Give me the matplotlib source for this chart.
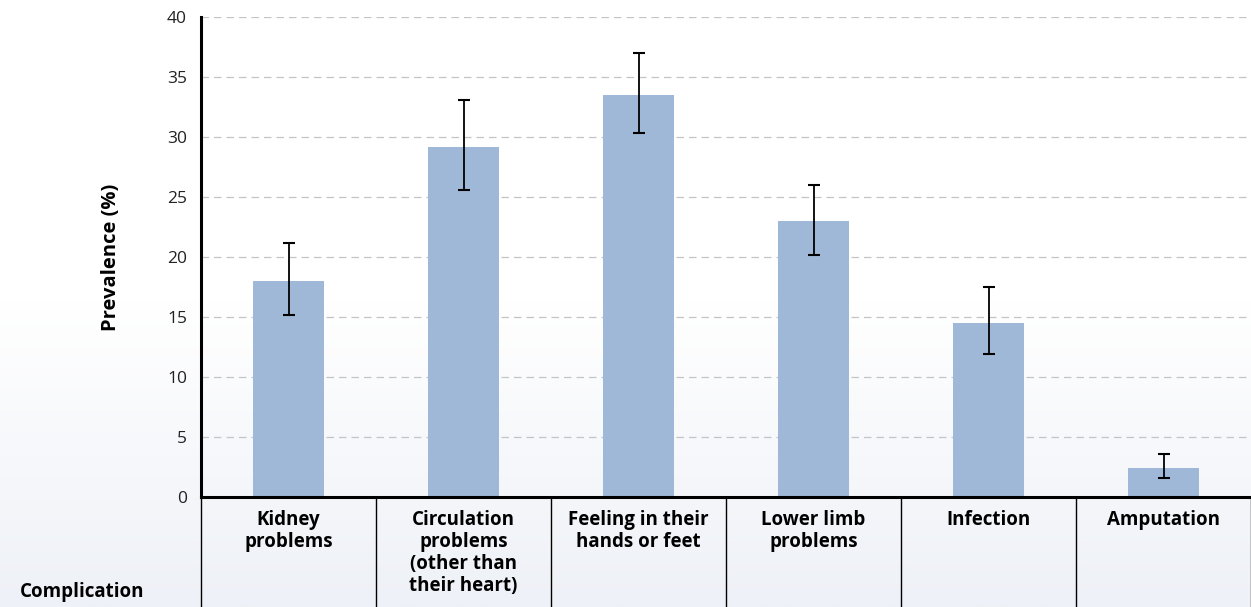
import numpy as np
import matplotlib.pyplot as plt
from matplotlib.colors import LinearSegmentedColormap
from matplotlib.lines import Line2D

categories = ["Kidney\nproblems", "Circulation\nproblems\n(other than\ntheir heart)",
              "Feeling in their\nhands or feet", "Lower limb\nproblems", "Infection", "Amputation"]
prevalence = [18.0, 29.2, 33.5, 23.0, 14.5, 2.4]
ci_low = [15.2, 25.6, 30.3, 20.2, 11.9, 1.6]
ci_high = [21.2, 33.1, 37.0, 26.0, 17.5, 3.6]
yticks = [0, 5, 10, 15, 20, 25, 30, 35, 40]

plt.rcParams['font.family'] = ['Open Sans', 'DejaVu Sans']

W, H = 1251, 607
fig = plt.figure(figsize=(W / 100, H / 100), dpi=100)

# background gradient (white at top -> pale blue-grey at bottom)
bg = fig.add_axes([0, 0, 1, 1], zorder=-10)
grad = np.linspace(0, 1, 256).reshape(-1, 1)
cmap = LinearSegmentedColormap.from_list("bg", ["#ffffff", "#ffffff", "#eef1f7"])
bg.imshow(grad, aspect="auto", cmap=cmap, extent=[0, 1, 0, 1], origin="upper")
bg.axis("off")

left, right, top, bottom = 201, 1251, 17, 497
ax = fig.add_axes([left / W, (H - bottom) / H, (right - left) / W, (bottom - top) / H])
ax.set_facecolor("none")

x = np.arange(len(categories))
vals = np.array(prevalence)
err = [vals - np.array(ci_low), np.array(ci_high) - vals]
ax.bar(x, vals, width=0.41, color="#9fb8d8", zorder=2)
ax.errorbar(x, vals, yerr=err, fmt="none", ecolor="black", elinewidth=1.3,
            capsize=4.5, capthick=1.5, zorder=3)

ax.set_xlim(-0.5, len(categories) - 0.5)
ax.set_ylim(0, 40)
ax.set_yticks(yticks)
ax.tick_params(axis="y", length=0, labelsize=12.5, colors="#222222", pad=10)
ax.set_xticks([])
ax.yaxis.grid(True, linestyle=(0, (6, 4)), color="#c4c4c4", linewidth=0.9, zorder=0)
ax.set_axisbelow(True)
for s in ["top", "right"]:
    ax.spines[s].set_visible(False)
ax.spines["left"].set_linewidth(2.2)
ax.spines["bottom"].set_linewidth(2.2)

ax.set_ylabel("Prevalence (%)", fontsize=14.5, fontweight="bold", labelpad=33)

# category table below the axis
for i, lab in enumerate(categories):
    ax.text(i, -1.1, lab, ha="center", va="top", fontsize=13.5, fontweight="bold",
            linespacing=1.12, transform=ax.transData, clip_on=False)
y_bottom = -(H - bottom) / ((bottom - top) / 40)
for b in np.arange(-0.5, len(categories) - 0.4, 1.0):
    ax.add_line(Line2D([b, b], [0, y_bottom], color="black", linewidth=1.0, clip_on=False))

fig.text(20 / W, (H - 592) / H, "Complication", ha="left", va="center",
         fontsize=13.5, fontweight="bold")

fig.savefig("out.png", dpi=100)
